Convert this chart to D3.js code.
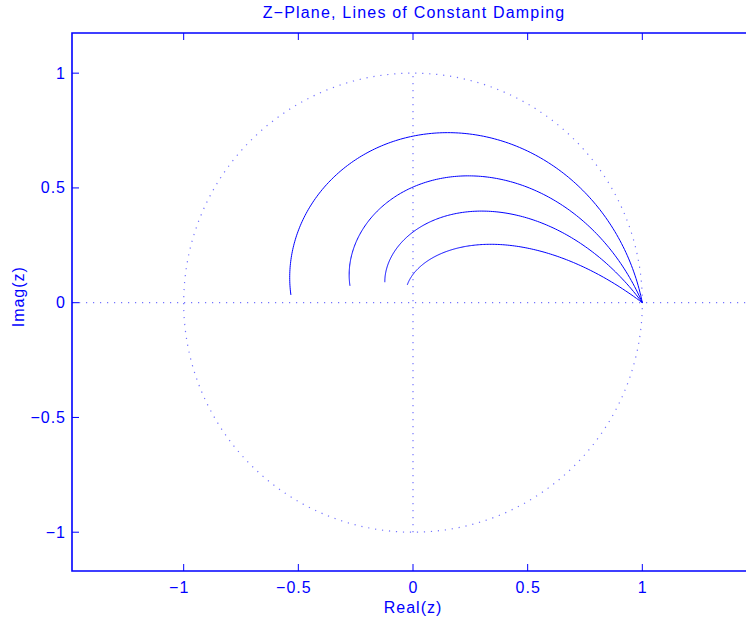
<!DOCTYPE html>
<html>
<head>
<meta charset="utf-8">
<script src="https://cdn.jsdelivr.net/npm/d3@7"></script>
<style>
  html, body { margin: 0; padding: 0; background: #fff; overflow: hidden; }
  svg { display: block; font-family: "Liberation Sans", Arial, Helvetica, sans-serif; }
</style>
</head>
<body>
<script>
// Damping ratios of the constant-damping loci, traced for wn*T from 0 to pi
const dampingRatios = [0.2, 0.4, 0.6, 0.8];
const wnTRange = [0, Math.PI];

// Axis ticks and labels
const xTicks = [-1, -0.5, 0, 0.5, 1];
const xTickLabels = ["\u22121", "\u22120.5", "0", "0.5", "1"];
const yTicks = [-1, -0.5, 0, 0.5, 1];
const yTickLabels = ["\u22121", "\u22120.5", "0", "0.5", "1"];

const xLimits = [-1.487, 1.487];
const yLimits = [-1.169, 1.175];

const titleText = "Z\u2212Plane, Lines of Constant Damping";
const xLabelText = "Real(z)";
const yLabelText = "Imag(z)";

const W = 746, H = 619;
const plot = { left: 72, top: 33, right: 754, bottom: 571 };
const blue = "#0000ff";
const fontSize = 16;
const spacing = 1;

const svg = d3.select("body").append("svg")
  .attr("width", W).attr("height", H);

const x = d3.scaleLinear().domain(xLimits).range([plot.left, plot.right]);
const y = d3.scaleLinear().domain(yLimits).range([plot.bottom, plot.top]);

svg.append("clipPath").attr("id", "plotclip")
  .append("rect")
  .attr("x", plot.left).attr("y", plot.top)
  .attr("width", plot.right - plot.left).attr("height", plot.bottom - plot.top);

const g = svg.append("g").attr("clip-path", "url(#plotclip)");

// Dotted reference grid: unit circle, real axis, imaginary axis
const dotted = sel => sel
  .attr("fill", "none")
  .attr("stroke", blue)
  .attr("stroke-opacity", 0.55)
  .attr("stroke-width", 1.2)
  .attr("stroke-dasharray", "1.2,5.8");

const circlePts = d3.range(0, 361, 1).map(a => [Math.cos(a * Math.PI / 180), Math.sin(a * Math.PI / 180)]);
const line = d3.line().x(d => x(d[0])).y(d => y(d[1]));

g.append("path").datum(circlePts).attr("d", line).call(dotted);
g.append("path").datum([[xLimits[0], 0], [xLimits[1], 0]]).attr("d", line).call(dotted);
g.append("path").datum([[0, -1], [0, 1]]).attr("d", line).call(dotted);

// Constant-damping loci z = exp(sT), s = -zeta*wn + j*wn*sqrt(1 - zeta^2)
const steps = d3.range(0, 201).map(i => wnTRange[0] + (wnTRange[1] - wnTRange[0]) * i / 200);
dampingRatios.forEach(zeta => {
  const pts = steps.map(w => {
    const mag = Math.exp(-zeta * w);
    const ang = w * Math.sqrt(1 - zeta * zeta);
    return [mag * Math.cos(ang), mag * Math.sin(ang)];
  });
  g.append("path").datum(pts).attr("d", line)
    .attr("fill", "none").attr("stroke", blue).attr("stroke-width", 1);
});

// Axes box and inward ticks
const axisG = svg.append("g");
const tickLen = 7;
axisG.append("path")
  .attr("d", `M${plot.right},${plot.top}H${plot.left}V${plot.bottom}H${plot.right}`)
  .attr("fill", "none").attr("stroke", blue).attr("stroke-width", 1.6);

xTicks.forEach((t, i) => {
  const px = x(t);
  if (px > W) return;
  axisG.append("line").attr("x1", px).attr("x2", px)
    .attr("y1", plot.bottom).attr("y2", plot.bottom - tickLen)
    .attr("stroke", blue).attr("stroke-width", 1);
  axisG.append("line").attr("x1", px).attr("x2", px)
    .attr("y1", plot.top).attr("y2", plot.top + tickLen)
    .attr("stroke", blue).attr("stroke-width", 1);
  // negative labels hang their minus sign to the left of the tick
  const shift = t < 0 ? -5 : 0;
  axisG.append("text").attr("x", px + spacing / 2 + shift).attr("y", plot.bottom + 22)
    .attr("text-anchor", "middle").attr("fill", blue)
    .attr("font-size", fontSize).attr("letter-spacing", spacing)
    .text(xTickLabels[i]);
});

yTicks.forEach((t, i) => {
  const py = y(t);
  axisG.append("line").attr("x1", plot.left).attr("x2", plot.left + tickLen)
    .attr("y1", py).attr("y2", py)
    .attr("stroke", blue).attr("stroke-width", 1);
  axisG.append("text").attr("x", plot.left - 6).attr("y", py + 5.5)
    .attr("text-anchor", "end").attr("fill", blue)
    .attr("font-size", fontSize).attr("letter-spacing", spacing)
    .text(yTickLabels[i]);
});

// Title and axis labels
svg.append("text").attr("x", 414).attr("y", 18)
  .attr("text-anchor", "middle").attr("fill", blue)
  .attr("font-size", fontSize).attr("letter-spacing", 1.2)
  .text(titleText);
svg.append("text").attr("x", 413).attr("y", 613)
  .attr("text-anchor", "middle").attr("fill", blue)
  .attr("font-size", fontSize).attr("letter-spacing", spacing)
  .text(xLabelText);
svg.append("text")
  .attr("transform", `translate(24,${y(0) - 6}) rotate(-90)`)
  .attr("text-anchor", "middle").attr("fill", blue)
  .attr("font-size", fontSize).attr("letter-spacing", spacing)
  .text(yLabelText);
</script>
</body>
</html>
